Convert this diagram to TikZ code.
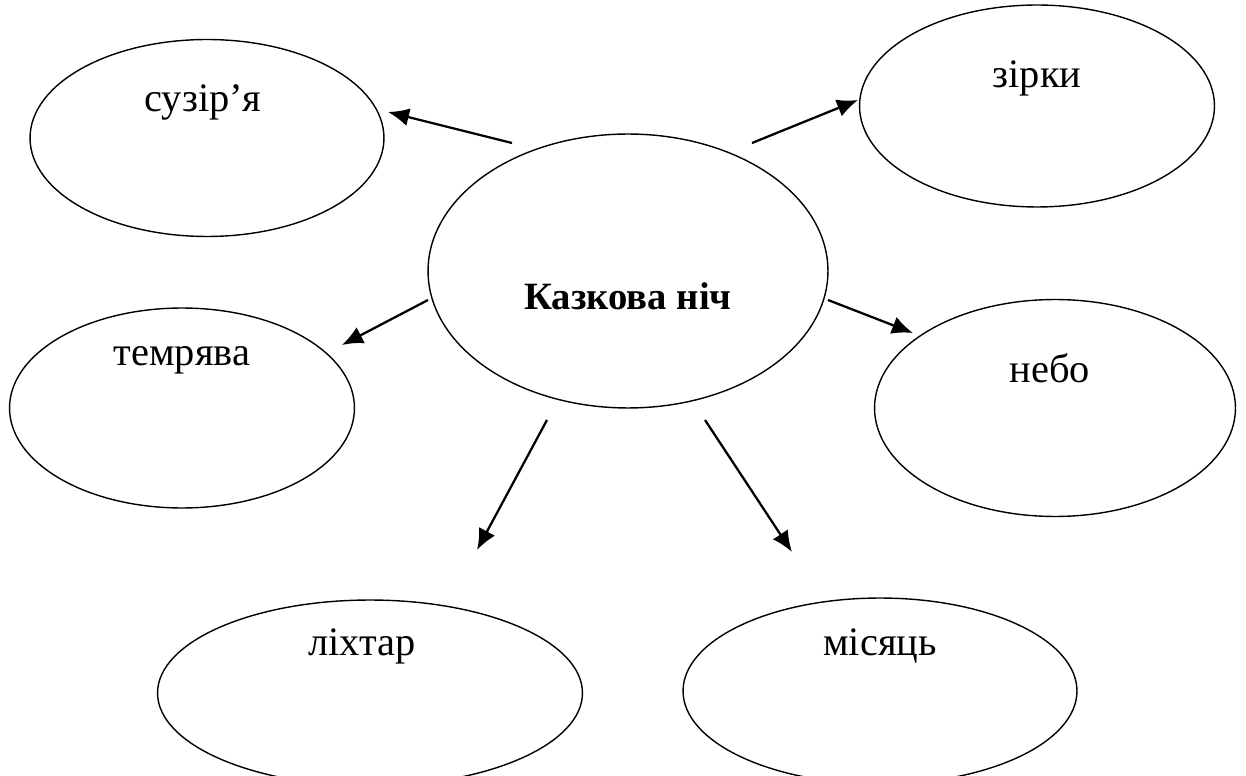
\documentclass[tikz,border=0pt]{standalone}
\usepackage{fontspec}
\setmainfont{Liberation Serif}
\usetikzlibrary{shapes.geometric, arrows.meta}
\tikzset{
  oval/.style={draw, ellipse, line width=0.8pt, inner sep=0pt},
  word/.style={font=\fontsize{23}{27}\selectfont, inner sep=0pt},
  link/.style={-{Latex[length=0.42cm, width=0.36cm]}, line width=1.3pt},
}
\begin{document}
\begin{tikzpicture}[x=0.02cm, y=-0.02cm]
\useasboundingbox (0,0) rectangle (1246,776);
\node[oval, minimum width=8.0cm, minimum height=5.48cm] (hub) at (628,271) {};
\node[oval, minimum width=7.08cm, minimum height=3.94cm] (a) at (207,138) {};
\node[oval, minimum width=7.10cm, minimum height=4.04cm] (b) at (1037,106) {};
\node[oval, minimum width=6.90cm, minimum height=4.00cm] (c) at (182,408) {};
\node[oval, minimum width=7.22cm, minimum height=4.34cm] (d) at (1055,408) {};
\node[oval, minimum width=8.50cm, minimum height=3.72cm] (e) at (370,693) {};
\node[oval, minimum width=7.88cm, minimum height=3.72cm] (f) at (880,691) {};
\node[word, font=\fontsize{22}{26}\selectfont\bfseries] (hubtxt) at (628,296) {Казкова ніч};
\node[word] (atxt) at (203,102) {сузір’я};
\node[word] (btxt) at (1037,78) {зірки};
\node[word] (ctxt) at (182,360) {темрява};
\node[word] (dtxt) at (1050,368) {небо};
\node[word] (etxt) at (362,646) {ліхтар};
\node[word] (ftxt) at (880,646) {місяць};
% arrow ends
\coordinate (a1) at (512,143); \coordinate (a2) at (388,112);
\coordinate (b1) at (752,143); \coordinate (b2) at (858,100);
\coordinate (c1) at (428,300); \coordinate (c2) at (342,345);
\coordinate (d1) at (828,300); \coordinate (d2) at (913,333);
\coordinate (e1) at (547,420); \coordinate (e2) at (477,550);
\coordinate (f1) at (705,420); \coordinate (f2) at (792,552);
\draw[link] (a1) -- (a2);
\draw[link] (b1) -- (b2);
\draw[link] (c1) -- (c2);
\draw[link] (d1) -- (d2);
\draw[link] (e1) -- (e2);
\draw[link] (f1) -- (f2);
\end{tikzpicture}
\end{document}
